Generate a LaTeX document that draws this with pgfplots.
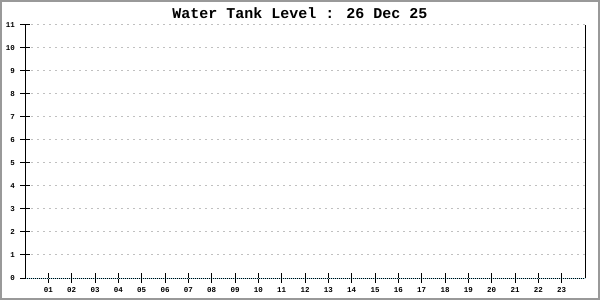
\documentclass[border=0pt]{standalone}
\usepackage{pgfplots}
\pgfplotsset{compat=1.18}
\usepackage{fontspec}
\setmainfont{Liberation Mono}
\definecolor{gridgray}{HTML}{C0C0C0}
\definecolor{framegray}{HTML}{999999}
\definecolor{zeroline}{HTML}{9FD8E8}
\begin{document}
\begin{tikzpicture}
\useasboundingbox (-25bp,-22bp) rectangle (575bp,278bp);
\draw[framegray, line width=2bp] (-24bp,-21bp) rectangle (574bp,277bp);
\begin{axis}[
  at={(0bp,0bp)}, anchor=south west,
  scale only axis, width=560bp, height=253bp,
  xmin=0, xmax=24, ymin=0, ymax=11,
  axis x line*=bottom,
  x axis line style={draw=none},
  y axis line style={black, line width=1bp},
  xtick={1,...,23},
  xticklabels={01,02,03,04,05,06,07,08,09,10,11,12,13,14,15,16,17,18,19,20,21,22,23},
  ytick={0,...,11},
  xtick pos=bottom, ytick pos=left,
  tick align=center,
  major tick length=9bp,
  every tick/.style={black, line width=1bp},
  ymajorgrids,
  major grid style={gridgray, line width=1bp, dash pattern=on 2bp off 4bp},
  /pgf/number format/assume math mode=true,
  tick label style={font=\bfseries\fontsize{7.5bp}{7.5bp}\selectfont},
  yticklabel style={anchor=east, xshift=-2bp},
  xticklabel style={anchor=north, text height=5.5bp, text depth=0bp, yshift=-1bp},
  clip=false,
]
\addplot[draw=none, forget plot] coordinates {(0,0) (24,0)};
\draw[zeroline, line width=1bp] (axis cs:0,0) -- (axis cs:24,0);
\draw[black, line width=1bp, dash pattern=on 1bp off 1bp] (axis cs:0,0) -- (axis cs:24,0);
\end{axis}
\node[anchor=base, font=\bfseries\fontsize{15bp}{15bp}\selectfont] at (275bp,259.7bp) {Water Tank Level : 26 Dec 25};
\end{tikzpicture}
\end{document}
